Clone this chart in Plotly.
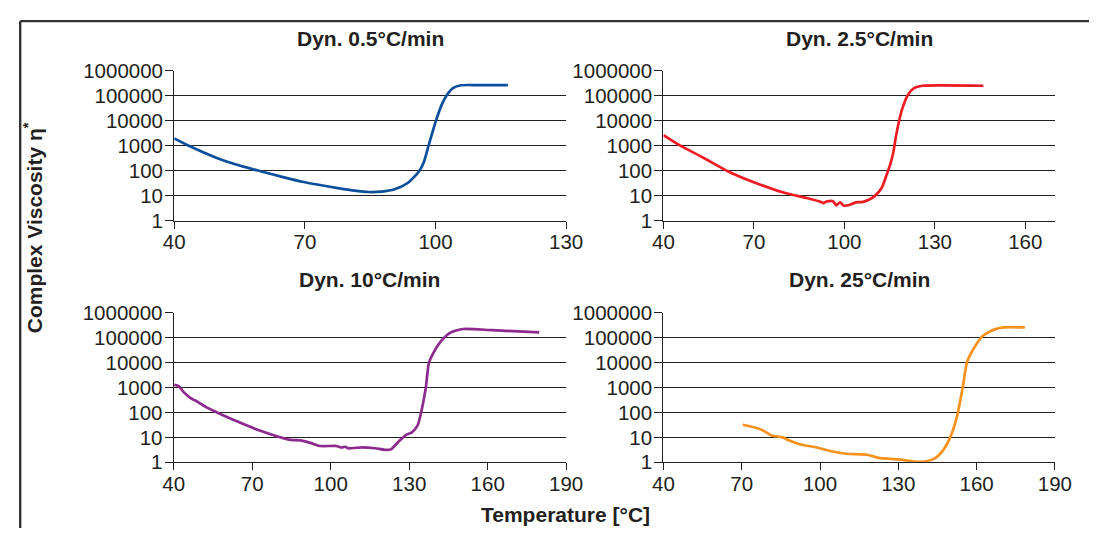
import plotly.graph_objects as go

# ---------------- data ----------------
titles = ["Dyn. 0.5°C/min", "Dyn. 2.5°C/min", "Dyn. 10°C/min", "Dyn. 25°C/min"]

t_05 = [40.0, 43.6, 49.5, 55.0, 60.0, 65.0, 69.7, 77.2, 84.6, 87.6, 90.6, 93.6, 96.2,
        97.3, 98.4, 100.1, 101.4, 102.5, 104.0, 105.9, 110.0, 116.6]
v_05 = [1960, 940, 337, 160, 93, 55, 35, 20.6, 14, 14.5, 18, 32, 93,
        216, 1000, 10000, 43000, 100000, 200000, 262000, 265000, 267000]

t_25 = [40.0, 45.6, 53.1, 61.5, 69.3, 80.1, 87.6, 92.5, 93.0, 94.1, 96.2, 97.3, 98.6,
        99.7, 101.6, 103.8, 105.9, 108.1, 110.2, 112.4, 114.0, 115.1, 116.2, 116.9,
        117.8, 119.1, 121.0, 123.1, 125.9, 146.1]
v_25 = [2630, 1000, 337, 93, 37, 13, 8, 5.4, 5.0, 5.8, 6.0, 4.1, 5.4,
        4.0, 4.2, 5.4, 5.5, 6.8, 10, 20.6, 67, 162, 525, 1700,
        6300, 27500, 105000, 200000, 250000, 250000]

t_10 = [40.2, 41.9, 43.7, 46.2, 49.3, 52.4, 57.4, 64.8, 72.3, 79.7, 84.7, 88.4, 92.2,
        95.9, 102.1, 104.0, 105.6, 106.6, 112.0, 117.0, 120.7, 123.0, 125.7, 128.8,
        130.9, 133.2, 134.4, 136.3, 137.5, 138.8, 141.8, 145.6, 150.6, 161.7, 179.7]
v_10 = [1290, 1140, 670, 396, 260, 163, 91, 41, 19.6, 10.9, 7.9, 7.6, 6.0,
        4.5, 4.5, 3.9, 4.2, 3.65, 4.0, 3.65, 3.16, 3.3, 6.4, 12.6,
        15.5, 30, 85, 910, 9500, 20000, 65000, 156000, 223000, 200000, 162000]

t_250 = [70.4, 76.4, 78.9, 81.4, 85.7, 88.2, 92.6, 98.8, 105.0, 110.0, 118.1, 122.5,
         130.0, 137.4, 141.2, 144.3, 147.4, 149.9, 152.4, 154.6, 156.4, 159.2, 162.3,
         166.7, 170.4, 178.5]
v_250 = [32, 22.7, 17, 11.9, 10, 7.4, 5.2, 3.9, 2.7, 2.2, 2.0, 1.5,
         1.3, 1.03, 1.12, 1.5, 3.3, 10, 63, 900, 11000, 41500, 117000,
         210000, 257000, 257000]

y_ticks = [1, 10, 100, 1000, 10000, 100000, 1000000]
y_ticktext = ["1", "10", "100", "1000", "10000", "100000", "1000000"]
x_ranges = [[40, 130], [40, 170], [40, 190], [40, 190]]
x_ticks = [[40, 70, 100, 130], [40, 70, 100, 130, 160],
           [40, 70, 100, 130, 160, 190], [40, 70, 100, 130, 160, 190]]

series = [(t_05, v_05), (t_25, v_25), (t_10, v_10), (t_250, v_250)]
colors = ["#0b4f9c", "#ec1c24", "#8c2a8e", "#f7921e"]

y_title = "Complex Viscosity η<sup>*</sup>"
x_title = "Temperature [°C]"

# ---------------- layout geometry ----------------
# the page keeps the browser's default 8px body margin, so the figure is
# sized to fill the 1114x547 window exactly with that margin around it
OFF = 8
W, H = 1114 - 2 * OFF, 547 - 2 * OFF


def px(x):
    return (x - OFF) / W


def py(y):
    return 1 - (y - OFF) / H


xdoms = [[px(167.3), px(569.5)], [px(669.3), px(1071.6)],
         [px(166.8), px(569.5)], [px(669.3), px(1071.0)]]
ydoms = [[py(217.7), py(61.0)], [py(217.7), py(61.0)],
         [py(470.3), py(314.0)], [py(470.3), py(314.0)]]
title_y = [py(27), py(27), py(279), py(279)]

FONT = "Liberation Sans, Arial, Helvetica, sans-serif"
INK = "#231f20"
TICK_SIZE = 20.5
BOLD_SIZE = 21

fig = go.Figure()
layout = dict(
    width=W, height=H,
    margin=dict(l=0, r=0, t=0, b=0),
    paper_bgcolor="white", plot_bgcolor="white",
    showlegend=False,
    font=dict(family=FONT, color=INK, size=TICK_SIZE),
)

annotations = []
for i, ((xs, ys), col) in enumerate(zip(series, colors)):
    n = "" if i == 0 else str(i + 1)
    fig.add_trace(go.Scatter(
        x=xs, y=ys, mode="lines",
        line=dict(color=col, width=2.7, shape="spline", smoothing=0.6),
        xaxis="x" + n, yaxis="y" + n, hoverinfo="skip",
    ))
    layout["xaxis" + n] = dict(
        domain=xdoms[i], anchor="y" + n, range=x_ranges[i],
        tickmode="array", tickvals=x_ticks[i], ticktext=[str(v) for v in x_ticks[i]],
        showgrid=False, zeroline=False, showline=True, linecolor=INK, linewidth=1.3,
        ticks="outside", ticklen=7, tickwidth=1.3, tickcolor=INK, ticklabelstandoff=-4,
        tickfont=dict(family=FONT, size=TICK_SIZE, color=INK), fixedrange=True,
    )
    layout["yaxis" + n] = dict(
        domain=ydoms[i], anchor="x" + n, type="log", range=[0, 6],
        tickmode="array", tickvals=y_ticks, ticktext=y_ticktext,
        showgrid=True, gridcolor=INK, gridwidth=1.3,
        zeroline=False, showline=True, linecolor=INK, linewidth=1.3,
        ticks="outside", ticklen=8, tickwidth=1.3, tickcolor=INK, ticklabelstandoff=-2,
        tickfont=dict(family=FONT, size=TICK_SIZE, color=INK), fixedrange=True,
    )
    annotations.append(dict(
        text="<b>" + titles[i] + "</b>", xref="paper", yref="paper",
        x=(xdoms[i][0] + xdoms[i][1]) / 2, y=title_y[i],
        xanchor="center", yanchor="middle", showarrow=False,
        font=dict(family=FONT, size=BOLD_SIZE, color=INK),
    ))

annotations.append(dict(
    text="<b>" + y_title + "</b>", xref="paper", yref="paper",
    x=px(22), y=py(225), xanchor="center", yanchor="middle",
    textangle=-90, showarrow=False, font=dict(family=FONT, size=BOLD_SIZE, color=INK),
))
annotations.append(dict(
    text="<b>" + x_title + "</b>", xref="paper", yref="paper",
    x=px(569), y=py(525), xanchor="center", yanchor="middle",
    showarrow=False, font=dict(family=FONT, size=BOLD_SIZE, color=INK),
))
layout["annotations"] = annotations

# frame: left and top border lines
layout["shapes"] = [
    dict(type="line", xref="paper", yref="paper", x0=1.2 / W, x1=1.2 / W, y0=0, y1=1 - 1.2 / H,
         line=dict(color="#333333", width=2.4)),
    dict(type="line", xref="paper", yref="paper", x0=1.2 / W, x1=1, y0=1 - 1.2 / H, y1=1 - 1.2 / H,
         line=dict(color="#333333", width=2.4)),
]

fig.update_layout(**layout)
fig.write_html("out.html", config={"displayModeBar": False})
